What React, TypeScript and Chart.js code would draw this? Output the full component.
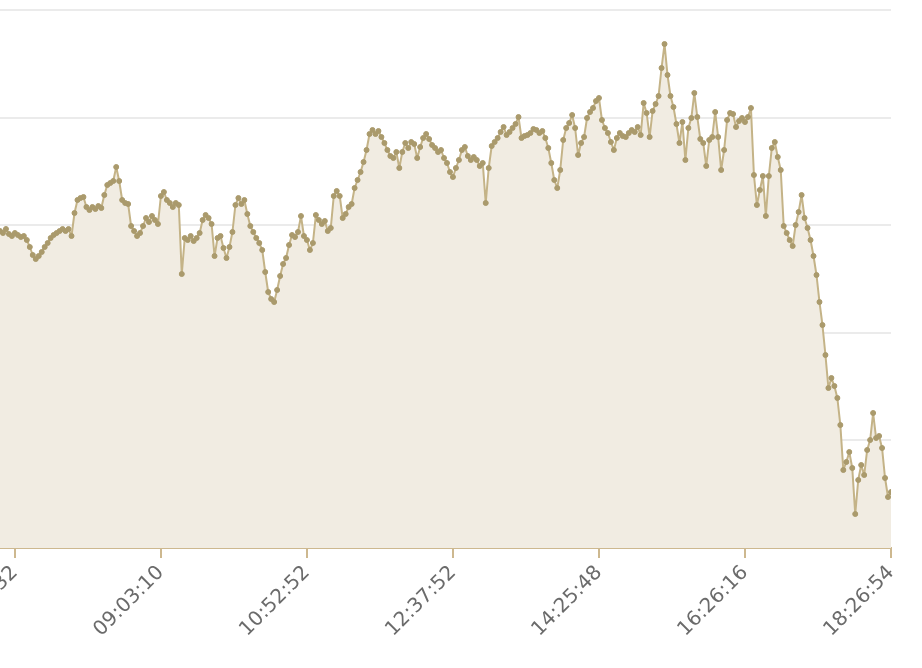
import React, { useEffect, useRef } from "react";
import { Chart, registerables } from "chart.js";

Chart.register(...registerables);

// Tick labels (times) and the point positions they sit on
const TICK_LABELS = ["07:14:32", "09:03:10", "10:52:52", "12:37:52", "14:25:48", "16:26:16", "18:26:54"];
const TICK_POSITIONS = [5, 54, 103, 152, 201, 250, 299];

// Horizontal gridline values
const Y_GRID = [0, 107.6, 215.2, 322.8, 430.4, 538];

// Series values (one per sample)
const VALUES = [
  317, 315, 319, 314, 312, 315, 313, 311, 312, 308,
  301, 293, 289, 292, 296, 301, 305, 310, 313, 315,
  317, 319, 317, 319, 312, 335, 348, 350, 351, 341,
  338, 341, 339, 342, 340, 353, 363, 365, 367, 381,
  367, 348, 345, 344, 322, 317, 312, 315, 322, 330,
  326, 332, 328, 324, 352, 356, 348, 345, 341, 345,
  343, 274, 310, 308, 312, 307, 310, 315, 328, 333,
  330, 324, 292, 310, 312, 300, 290, 301, 316, 343,
  350, 344, 348, 334, 322, 316, 310, 305, 298, 276,
  256, 249, 246, 258, 272, 284, 290, 303, 313, 311,
  316, 332, 312, 308, 298, 305, 333, 328, 324, 327,
  317, 320, 352, 357, 352, 330, 334, 341, 344, 360,
  368, 376, 386, 398, 414, 418, 414, 417, 411, 405,
  398, 392, 390, 396, 380, 396, 405, 400, 406, 404,
  390, 401, 410, 414, 409, 403, 400, 396, 398, 390,
  385, 376, 371, 380, 388, 398, 401, 392, 388, 391,
  388, 382, 385, 345, 380, 402, 406, 410, 416, 421,
  413, 416, 420, 424, 431, 410, 412, 413, 415, 419,
  418, 415, 417, 410, 400, 385, 368, 360, 378, 408,
  420, 425, 433, 420, 393, 405, 411, 430, 436, 440,
  447, 450, 428, 420, 415, 406, 398, 410, 415, 412,
  411, 415, 418, 416, 421, 413, 445, 435, 411, 437,
  444, 452, 480, 504, 473, 452, 441, 424, 405, 426,
  388, 420, 430, 455, 431, 409, 405, 382, 408, 411,
  436, 411, 378, 398, 428, 435, 434, 421, 427, 430,
  426, 431, 440, 373, 343, 358, 372, 332, 372, 400,
  406, 391, 378, 322, 315, 308, 302, 323, 336, 353,
  330, 320, 308, 292, 273, 246, 223, 193, 160, 170,
  162, 150, 123, 78, 86, 96, 80, 34, 68, 83,
  73, 98, 108, 135, 110, 112, 100, 70, 51, 56,
];

const LINE_COLOR = "#c4b387";
const POINT_COLOR = "#aa9a6c";
const FILL_COLOR = "#f1ece2";
const AXIS_COLOR = "#cdb88f";
const GRID_COLOR = "#ebebeb";

export default function App() {
  const canvasRef = useRef<HTMLCanvasElement | null>(null);

  useEffect(() => {
    const canvas = canvasRef.current;
    if (!canvas) return;
    const points = VALUES.map((v, i) => ({ x: i, y: v }));
    const chart = new Chart(canvas, {
      type: "line",
      data: {
        datasets: [
          {
            data: points,
            borderColor: LINE_COLOR,
            borderWidth: 2,
            borderJoinStyle: "round",
            backgroundColor: FILL_COLOR,
            fill: "origin",
            pointRadius: 2.5,
            pointBorderWidth: 1,
            pointBackgroundColor: POINT_COLOR,
            pointBorderColor: POINT_COLOR,
            tension: 0,
          },
        ],
      },
      options: {
        responsive: false,
        animation: false,
        layout: { autoPadding: false, padding: { top: 10, right: 31, left: 0, bottom: 0 } },
        plugins: {
          legend: { display: false },
          tooltip: { enabled: false },
        },
        scales: {
          x: {
            type: "linear",
            min: 0,
            max: VALUES.length - 1,
            afterBuildTicks: (scale: any) => {
              scale.ticks = TICK_POSITIONS.map((v) => ({ value: v }));
            },
            afterFit: (scale: any) => {
              scale.height = 120;
              scale.paddingLeft = 0;
              scale.paddingRight = 0;
            },
            ticks: {
              autoSkip: false,
              minRotation: 45,
              maxRotation: 45,
              padding: 3,
              color: "#6b6b6b",
              font: { family: "'DejaVu Sans', sans-serif", size: 20 },
              callback: (value: any) => {
                const idx = TICK_POSITIONS.indexOf(Number(value));
                return idx >= 0 ? TICK_LABELS[idx] : null;
              },
            },
            grid: {
              display: true,
              drawOnChartArea: false,
              drawTicks: true,
              tickLength: 10,
              color: AXIS_COLOR,
              lineWidth: 2,
            },
            border: { display: true, color: AXIS_COLOR, width: 2 },
          },
          y: {
            type: "linear",
            min: 0,
            max: 538,
            afterBuildTicks: (scale: any) => {
              scale.ticks = Y_GRID.map((v) => ({ value: v }));
            },
            afterFit: (scale: any) => {
              scale.width = 0;
            },
            ticks: { display: false },
            grid: { color: GRID_COLOR, lineWidth: 2, drawTicks: false },
            border: { display: false },
          },
        },
      },
    });
    return () => chart.destroy();
  }, []);

  return (
    <canvas
      ref={canvasRef}
      width={922}
      height={668}
      style={{ position: "absolute", left: 0, top: 0, display: "block" }}
    />
  );
}
